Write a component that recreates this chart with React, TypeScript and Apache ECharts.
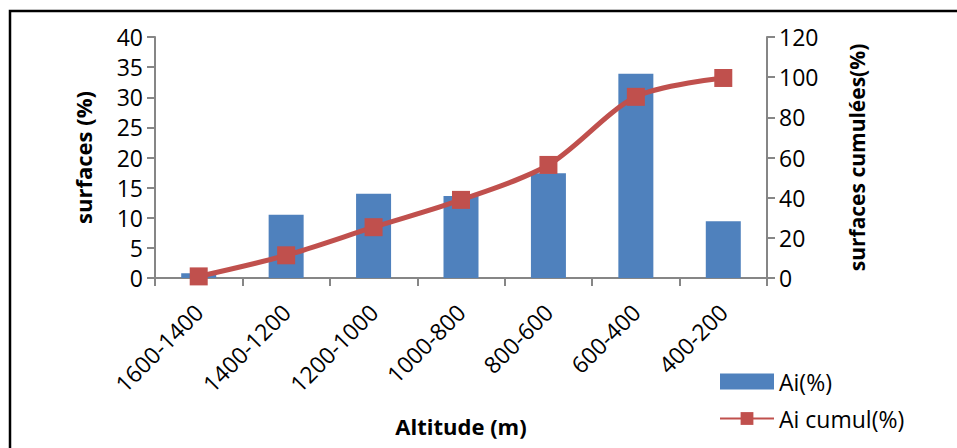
import React, { useEffect, useRef } from "react";
import * as echarts from "echarts";

const categories = ["1600-1400", "1400-1200", "1200-1000", "1000-800", "800-600", "600-400", "400-200"];
const aiValues = [0.8, 10.5, 14, 13.6, 17.4, 33.9, 9.4];
const aiCumul = [0.8, 11.3, 25.3, 38.9, 56.3, 90.2, 99.6];
const leftTicks = { min: 0, max: 40, interval: 5 };
const rightTicks = { min: 0, max: 120, interval: 20 };

const FONT = "'Open Sans', 'Noto Sans', sans-serif";
const AXIS_COLOR = "#868686";

export default function App() {
  const ref = useRef<HTMLDivElement>(null);
  useEffect(() => {
    document.body.style.margin = "0";
    const chart = echarts.init(ref.current!, undefined, { renderer: "svg" });
    chart.setOption({
      animation: false,
      backgroundColor: "#ffffff",
      textStyle: { fontFamily: FONT },
      grid: { left: 155, right: 190, top: 37, bottom: 170, containLabel: false },
      legend: {
        orient: "vertical",
        left: 714,
        top: 365,
        itemWidth: 54,
        itemHeight: 16,
        itemGap: 14,
        textStyle: { fontFamily: FONT, fontSize: 23, color: "#000" },
        data: [
          { name: "Ai(%)", icon: "rect" },
          { name: "Ai cumul(%)" },
        ],
      },
      graphic: [
        {
          type: "rect",
          shape: { x: 10, y: 11, width: 1000, height: 500 },
          style: { fill: "none", stroke: "#000", lineWidth: 2.5 },
          z: 100,
        },
      ],
      xAxis: {
        type: "category",
        data: categories,
        boundaryGap: true,
        name: "Altitude (m)",
        nameLocation: "middle",
        nameGap: 137,
        nameTextStyle: { fontFamily: FONT, fontSize: 22, fontWeight: "bold", color: "#000" },
        axisLine: { lineStyle: { color: AXIS_COLOR, width: 2 } },
        axisTick: { show: true, length: 8, alignWithLabel: false, lineStyle: { color: AXIS_COLOR, width: 2 } },
        axisLabel: { rotate: 45, fontSize: 23, color: "#000", margin: 30, fontFamily: FONT, interval: 0 },
        splitLine: { show: false },
      },
      yAxis: [
        {
          type: "value",
          position: "left",
          min: leftTicks.min,
          max: leftTicks.max,
          interval: leftTicks.interval,
          name: "surfaces (%)",
          nameLocation: "middle",
          nameGap: 61,
          nameTextStyle: { fontFamily: FONT, fontSize: 22, fontWeight: "bold", color: "#000" },
          axisLine: { show: true, lineStyle: { color: AXIS_COLOR, width: 2 } },
          axisTick: { show: true, length: 8, lineStyle: { color: AXIS_COLOR, width: 2 } },
          axisLabel: { fontSize: 23, color: "#000", margin: 12, fontFamily: FONT },
          splitLine: { show: false },
        },
        {
          type: "value",
          position: "right",
          min: rightTicks.min,
          max: rightTicks.max,
          interval: rightTicks.interval,
          name: "surfaces cumulées(%)",
          nameLocation: "middle",
          nameGap: 79,
          nameRotate: 90,
          nameTextStyle: { fontFamily: FONT, fontSize: 21, fontWeight: "bold", color: "#000" },
          axisLine: { show: true, lineStyle: { color: AXIS_COLOR, width: 2 } },
          axisTick: { show: true, length: 8, lineStyle: { color: AXIS_COLOR, width: 2 } },
          axisLabel: { fontSize: 23, color: "#000", margin: 12, fontFamily: FONT },
          splitLine: { show: false },
        },
      ],
      series: [
        {
          name: "Ai(%)",
          type: "bar",
          yAxisIndex: 0,
          data: aiValues,
          barWidth: 35,
          itemStyle: { color: "#4F81BD" },
        },
        {
          name: "Ai cumul(%)",
          type: "line",
          yAxisIndex: 1,
          data: aiCumul,
          smooth: 0.3,
          symbol: "rect",
          symbolSize: 18,
          lineStyle: { color: "#C0504D", width: 5 },
          itemStyle: { color: "#C0504D" },
          z: 3,
        },
      ],
    });
    return () => chart.dispose();
  }, []);
  return <div ref={ref} style={{ width: 957, height: 448, position: "absolute", left: 0, top: 0 }} />;
}
